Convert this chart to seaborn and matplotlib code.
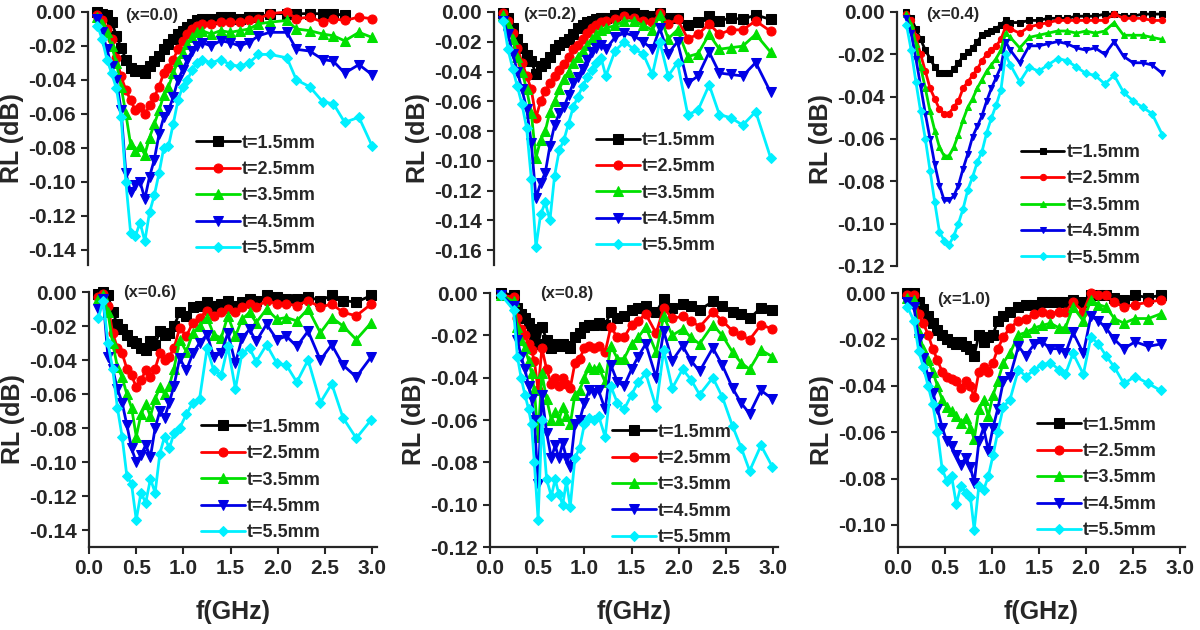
import numpy as np
import pandas as pd
import seaborn as sns
import matplotlib.pyplot as plt
from matplotlib.ticker import FormatStrFormatter, FuncFormatter, MultipleLocator

sns.set_style('ticks')
plt.rcParams['font.family'] = ['Liberation Sans', 'DejaVu Sans']
plt.rcParams['font.weight'] = 'bold'
plt.rcParams['axes.unicode_minus'] = False

labels = ['t=1.5mm', 't=2.5mm', 't=3.5mm', 't=4.5mm', 't=5.5mm']
colors = ['#000000', '#ff0000', '#00e000', '#0000e6', '#00f0ff']
markers = ['s', 'o', '^', 'v', 'D']

# ---- x=0.0 ----
f_00 = [0.10, 0.15, 0.20, 0.25, 0.30, 0.35, 0.40, 0.45, 0.50, 0.55, 0.60, 0.65, 0.70, 0.75, 0.80, 0.85,
        0.90, 0.95, 1.00, 1.05, 1.10, 1.15, 1.20, 1.30, 1.40, 1.50, 1.60, 1.70, 1.80, 1.92, 2.10, 2.20,
        2.34, 2.48, 2.59, 2.71, 2.86, 3.00]
rl_00_t15 = [-0.000, -0.001, -0.002, -0.006, -0.014, -0.021, -0.028, -0.033, -0.035, -0.034, -0.036, -0.032,
             -0.029, -0.026, -0.022, -0.019, -0.016, -0.013, -0.011, -0.009, -0.007, -0.005, -0.004, -0.004,
             -0.003, -0.003, -0.004, -0.003, -0.003, -0.001, -0.001, -0.001, -0.001, -0.001, -0.001, -0.002]
rl_00_t25 = [-0.002, -0.005, -0.010, -0.016, -0.027, -0.038, -0.046, -0.052, -0.058, -0.056, -0.060, -0.055,
             -0.050, -0.044, -0.036, -0.033, -0.028, -0.022, -0.017, -0.013, -0.010, -0.008, -0.007, -0.007,
             -0.006, -0.006, -0.006, -0.005, -0.004, -0.001, 0.000, -0.004, -0.003, -0.006, -0.004, -0.005,
             -0.003, -0.004]
rl_00_t35 = [-0.003, -0.007, -0.012, -0.020, -0.030, -0.044, -0.060, -0.078, -0.082, -0.079, -0.084, -0.074,
             -0.066, -0.058, -0.049, -0.044, -0.036, -0.029, -0.024, -0.019, -0.015, -0.012, -0.011, -0.013,
             -0.011, -0.012, -0.011, -0.010, -0.007, -0.006, -0.005, -0.010, -0.011, -0.013, -0.014, -0.017,
             -0.012, -0.015]
rl_00_t45 = [-0.004, -0.012, -0.022, -0.032, -0.040, -0.058, -0.095, -0.106, -0.102, -0.100, -0.110, -0.097,
             -0.087, -0.072, -0.062, -0.058, -0.050, -0.040, -0.034, -0.028, -0.023, -0.020, -0.018, -0.020,
             -0.017, -0.018, -0.020, -0.018, -0.014, -0.012, -0.012, -0.022, -0.023, -0.028, -0.029, -0.036,
             -0.031, -0.037]
rl_00_t55 = [-0.008, -0.016, -0.028, -0.036, -0.045, -0.062, -0.100, -0.130, -0.132, -0.124, -0.135, -0.118,
             -0.108, -0.095, -0.080, -0.079, -0.066, -0.052, -0.044, -0.040, -0.034, -0.030, -0.028, -0.030,
             -0.028, -0.031, -0.032, -0.030, -0.025, -0.025, -0.027, -0.040, -0.044, -0.053, -0.054, -0.065,
             -0.062, -0.079]

# ---- x=0.2 ----
f_02 = [0.10, 0.15, 0.20, 0.25, 0.30, 0.35, 0.40, 0.45, 0.50, 0.55, 0.60, 0.65, 0.70, 0.75, 0.80, 0.85,
        0.90, 0.95, 1.00, 1.05, 1.10, 1.15, 1.20, 1.30, 1.40, 1.50, 1.60, 1.70, 1.78, 1.87, 1.97, 2.08,
        2.19, 2.31, 2.42, 2.54, 2.67, 2.81, 2.97]
rl_02_t15 = [-0.001, -0.004, -0.011, -0.018, -0.024, -0.029, -0.033, -0.042, -0.036, -0.034, -0.030, -0.025,
             -0.022, -0.020, -0.018, -0.015, -0.011, -0.009, -0.007, -0.006, -0.005, -0.004, -0.004, -0.002,
             -0.001, -0.001, -0.002, -0.003, -0.001, -0.004, -0.004, -0.009, -0.007, -0.003, -0.006, -0.004,
             -0.005, -0.002, -0.005]
rl_02_t25 = [-0.001, -0.006, -0.014, -0.024, -0.034, -0.043, -0.052, -0.071, -0.060, -0.053, -0.048, -0.043,
             -0.039, -0.035, -0.030, -0.025, -0.022, -0.018, -0.014, -0.011, -0.009, -0.007, -0.006, -0.005,
             -0.003, -0.004, -0.006, -0.007, -0.001, -0.008, -0.005, -0.018, -0.015, -0.008, -0.015, -0.012,
             -0.012, -0.006, -0.013]
rl_02_t35 = [-0.002, -0.008, -0.018, -0.030, -0.040, -0.052, -0.068, -0.098, -0.086, -0.080, -0.067, -0.060,
             -0.052, -0.045, -0.040, -0.034, -0.030, -0.026, -0.022, -0.018, -0.015, -0.012, -0.011, -0.009,
             -0.006, -0.006, -0.009, -0.012, -0.002, -0.018, -0.012, -0.030, -0.028, -0.015, -0.025, -0.024,
             -0.023, -0.015, -0.027]
rl_02_t45 = [-0.006, -0.015, -0.028, -0.040, -0.052, -0.065, -0.088, -0.125, -0.115, -0.108, -0.090, -0.076,
             -0.068, -0.064, -0.056, -0.048, -0.044, -0.038, -0.032, -0.027, -0.024, -0.022, -0.025, -0.017,
             -0.014, -0.016, -0.020, -0.025, -0.011, -0.028, -0.020, -0.048, -0.043, -0.027, -0.041, -0.042,
             -0.043, -0.034, -0.054]
rl_02_t55 = [-0.006, -0.025, -0.038, -0.050, -0.062, -0.078, -0.112, -0.158, -0.136, -0.128, -0.140, -0.110,
             -0.093, -0.086, -0.075, -0.064, -0.057, -0.050, -0.044, -0.039, -0.034, -0.031, -0.043, -0.026,
             -0.020, -0.025, -0.028, -0.042, -0.020, -0.043, -0.034, -0.069, -0.066, -0.049, -0.069, -0.071,
             -0.076, -0.067, -0.098]

# ---- x=0.4 ----
f_04 = [0.10, 0.15, 0.20, 0.25, 0.30, 0.35, 0.40, 0.45, 0.50, 0.55, 0.60, 0.65, 0.70, 0.75, 0.80, 0.85,
        0.90, 0.95, 1.00, 1.05, 1.10, 1.15, 1.20, 1.30, 1.40, 1.50, 1.60, 1.70, 1.80, 1.90, 2.00, 2.10,
        2.20, 2.30, 2.40, 2.50, 2.60, 2.70, 2.81]
rl_04_t15 = [-0.000, -0.003, -0.008, -0.013, -0.018, -0.022, -0.026, -0.029, -0.029, -0.029, -0.027, -0.024,
             -0.021, -0.019, -0.017, -0.014, -0.011, -0.010, -0.009, -0.008, -0.006, -0.004, -0.005, -0.005,
             -0.004, -0.004, -0.003, -0.003, -0.003, -0.002, -0.002, -0.002, -0.001, -0.001, -0.002, -0.002,
             -0.001, -0.001, -0.001]
rl_04_t25 = [-0.001, -0.004, -0.012, -0.020, -0.028, -0.036, -0.041, -0.046, -0.048, -0.048, -0.045, -0.042,
             -0.036, -0.033, -0.030, -0.027, -0.023, -0.020, -0.018, -0.016, -0.013, -0.007, -0.008, -0.010,
             -0.007, -0.006, -0.005, -0.004, -0.004, -0.004, -0.004, -0.004, -0.004, -0.001, -0.003, -0.003,
             -0.003, -0.004, -0.004]
rl_04_t35 = [-0.001, -0.006, -0.015, -0.026, -0.036, -0.047, -0.056, -0.064, -0.068, -0.068, -0.064, -0.058,
             -0.051, -0.045, -0.041, -0.036, -0.032, -0.028, -0.025, -0.022, -0.018, -0.010, -0.012, -0.017,
             -0.012, -0.011, -0.010, -0.009, -0.009, -0.010, -0.009, -0.010, -0.009, -0.005, -0.011, -0.011,
             -0.011, -0.012, -0.013]
rl_04_t45 = [-0.003, -0.010, -0.022, -0.035, -0.048, -0.060, -0.072, -0.082, -0.089, -0.089, -0.087, -0.082,
             -0.074, -0.067, -0.059, -0.054, -0.049, -0.042, -0.036, -0.031, -0.026, -0.014, -0.018, -0.024,
             -0.016, -0.016, -0.015, -0.014, -0.015, -0.017, -0.018, -0.017, -0.020, -0.014, -0.021, -0.024,
             -0.024, -0.025, -0.029]
rl_04_t55 = [-0.006, -0.018, -0.033, -0.047, -0.060, -0.075, -0.090, -0.104, -0.108, -0.110, -0.106, -0.100,
             -0.093, -0.084, -0.078, -0.071, -0.066, -0.057, -0.050, -0.044, -0.037, -0.020, -0.025, -0.033,
             -0.026, -0.028, -0.025, -0.022, -0.023, -0.026, -0.029, -0.030, -0.034, -0.030, -0.038, -0.042,
             -0.045, -0.048, -0.058]

# ---- x=0.6 ----
f_06 = [0.10, 0.15, 0.20, 0.25, 0.30, 0.35, 0.40, 0.45, 0.50, 0.55, 0.60, 0.65, 0.70, 0.75, 0.80, 0.85,
        0.90, 0.96, 1.03, 1.10, 1.17, 1.25, 1.32, 1.40, 1.47, 1.55, 1.62, 1.70, 1.77, 1.88, 1.99, 2.09,
        2.20, 2.32, 2.45, 2.57, 2.69, 2.83, 2.99]
rl_06_t15 = [-0.001, -0.000, -0.002, -0.012, -0.019, -0.022, -0.025, -0.029, -0.030, -0.033, -0.034, -0.029,
             -0.031, -0.023, -0.025, -0.024, -0.020, -0.012, -0.014, -0.009, -0.008, -0.006, -0.008, -0.007,
             -0.005, -0.008, -0.006, -0.004, -0.005, -0.002, -0.003, -0.004, -0.004, -0.003, -0.005, -0.002,
             -0.005, -0.006, -0.002]
rl_06_t25 = [-0.003, -0.001, -0.008, -0.024, -0.033, -0.036, -0.045, -0.049, -0.056, -0.052, -0.046, -0.050,
             -0.045, -0.036, -0.040, -0.038, -0.033, -0.021, -0.026, -0.018, -0.015, -0.011, -0.014, -0.012,
             -0.010, -0.012, -0.009, -0.007, -0.009, -0.005, -0.007, -0.007, -0.008, -0.005, -0.009, -0.007,
             -0.012, -0.014, -0.007]
rl_06_t35 = [-0.004, -0.002, -0.012, -0.030, -0.044, -0.050, -0.060, -0.068, -0.085, -0.072, -0.066, -0.073,
             -0.063, -0.056, -0.060, -0.055, -0.045, -0.028, -0.035, -0.024, -0.020, -0.015, -0.025, -0.027,
             -0.014, -0.026, -0.016, -0.012, -0.018, -0.010, -0.016, -0.015, -0.017, -0.010, -0.024, -0.015,
             -0.020, -0.028, -0.018]
rl_06_t45 = [-0.010, -0.004, -0.038, -0.045, -0.057, -0.065, -0.078, -0.092, -0.100, -0.096, -0.090, -0.097,
             -0.080, -0.070, -0.074, -0.065, -0.055, -0.039, -0.046, -0.036, -0.030, -0.025, -0.038, -0.036,
             -0.024, -0.042, -0.027, -0.022, -0.029, -0.019, -0.028, -0.026, -0.032, -0.023, -0.040, -0.031,
             -0.043, -0.050, -0.038]
rl_06_t55 = [-0.015, -0.005, -0.030, -0.045, -0.068, -0.085, -0.108, -0.113, -0.134, -0.118, -0.124, -0.110,
             -0.118, -0.095, -0.085, -0.092, -0.083, -0.080, -0.072, -0.065, -0.063, -0.033, -0.046, -0.049,
             -0.032, -0.057, -0.036, -0.033, -0.041, -0.031, -0.042, -0.043, -0.053, -0.040, -0.065, -0.054,
             -0.074, -0.086, -0.075]

# ---- x=0.8 ----
f_08 = [0.12, 0.25, 0.29, 0.33, 0.37, 0.41, 0.44, 0.47, 0.51, 0.55, 0.60, 0.65, 0.69, 0.73, 0.77, 0.81,
        0.85, 0.90, 0.95, 1.00, 1.05, 1.10, 1.15, 1.22, 1.28, 1.35, 1.42, 1.50, 1.57, 1.65, 1.76, 1.84,
        1.93, 2.04, 2.13, 2.22, 2.36, 2.46, 2.57, 2.66, 2.75, 2.87, 2.99]
rl_08_t15 = [-0.000, -0.001, -0.007, -0.010, -0.012, -0.014, -0.017, -0.020, -0.024, -0.016, -0.022, -0.026,
             -0.024, -0.025, -0.024, -0.025, -0.026, -0.021, -0.019, -0.016, -0.015, -0.015, -0.014, -0.015,
             -0.009, -0.012, -0.011, -0.008, -0.007, -0.006, -0.009, -0.003, -0.007, -0.005, -0.006, -0.008,
             -0.004, -0.006, -0.009, -0.010, -0.012, -0.007, -0.008]
rl_08_t25 = [-0.001, -0.002, -0.012, -0.017, -0.020, -0.024, -0.027, -0.032, -0.046, -0.026, -0.036, -0.043,
             -0.040, -0.044, -0.040, -0.043, -0.045, -0.033, -0.031, -0.026, -0.025, -0.026, -0.025, -0.028,
             -0.016, -0.021, -0.021, -0.015, -0.013, -0.010, -0.019, -0.007, -0.012, -0.011, -0.013, -0.016,
             -0.009, -0.013, -0.018, -0.020, -0.022, -0.015, -0.017]
rl_08_t35 = [-0.001, -0.004, -0.016, -0.022, -0.026, -0.032, -0.038, -0.046, -0.068, -0.038, -0.050, -0.060,
             -0.056, -0.060, -0.054, -0.058, -0.062, -0.048, -0.046, -0.040, -0.035, -0.036, -0.035, -0.042,
             -0.025, -0.031, -0.031, -0.024, -0.021, -0.016, -0.028, -0.011, -0.020, -0.017, -0.021, -0.024,
             -0.015, -0.020, -0.028, -0.033, -0.036, -0.027, -0.030]
rl_08_t45 = [-0.001, -0.006, -0.022, -0.030, -0.036, -0.044, -0.050, -0.060, -0.090, -0.048, -0.066, -0.078,
             -0.072, -0.078, -0.071, -0.078, -0.082, -0.062, -0.060, -0.052, -0.046, -0.047, -0.046, -0.055,
             -0.034, -0.042, -0.044, -0.036, -0.030, -0.024, -0.040, -0.018, -0.032, -0.025, -0.032, -0.037,
             -0.026, -0.034, -0.045, -0.052, -0.057, -0.046, -0.050]
rl_08_t55 = [-0.001, -0.008, -0.030, -0.040, -0.048, -0.055, -0.062, -0.080, -0.107, -0.060, -0.088, -0.096,
             -0.088, -0.095, -0.100, -0.089, -0.101, -0.078, -0.073, -0.062, -0.059, -0.060, -0.058, -0.068,
             -0.044, -0.052, -0.055, -0.048, -0.042, -0.038, -0.054, -0.027, -0.045, -0.036, -0.041, -0.048,
             -0.040, -0.049, -0.063, -0.073, -0.084, -0.072, -0.082]

# ---- x=1.0 ----
f_10 = [0.10, 0.17, 0.22, 0.27, 0.32, 0.37, 0.42, 0.47, 0.52, 0.57, 0.62, 0.67, 0.72, 0.77, 0.81, 0.86,
        0.91, 0.96, 1.01, 1.06, 1.12, 1.19, 1.28, 1.36, 1.45, 1.53, 1.62, 1.71, 1.78, 1.86, 1.97, 2.05,
        2.13, 2.21, 2.30, 2.40, 2.52, 2.66, 2.79]
rl_10_t15 = [-0.000, -0.000, -0.004, -0.007, -0.010, -0.013, -0.016, -0.018, -0.020, -0.021, -0.022, -0.021,
             -0.023, -0.024, -0.027, -0.018, -0.021, -0.019, -0.018, -0.012, -0.010, -0.008, -0.006, -0.005,
             -0.005, -0.004, -0.004, -0.004, -0.004, -0.003, -0.004, -0.001, -0.001, -0.001, -0.002, -0.003,
             -0.001, -0.002, -0.001]
rl_10_t25 = [-0.001, -0.001, -0.009, -0.013, -0.018, -0.024, -0.029, -0.034, -0.036, -0.037, -0.038, -0.041,
             -0.038, -0.040, -0.045, -0.034, -0.032, -0.034, -0.030, -0.024, -0.019, -0.015, -0.012, -0.011,
             -0.009, -0.008, -0.009, -0.008, -0.008, -0.004, -0.008, 0.000, -0.001, -0.001, -0.004, -0.006,
             -0.005, -0.004, -0.003]
rl_10_t35 = [-0.002, -0.003, -0.017, -0.024, -0.029, -0.034, -0.040, -0.046, -0.049, -0.051, -0.053, -0.056,
             -0.054, -0.058, -0.063, -0.050, -0.046, -0.053, -0.044, -0.038, -0.030, -0.026, -0.018, -0.017,
             -0.015, -0.014, -0.013, -0.015, -0.015, -0.006, -0.012, -0.003, -0.005, -0.006, -0.011, -0.013,
             -0.011, -0.011, -0.009]
rl_10_t45 = [-0.004, -0.006, -0.020, -0.028, -0.036, -0.043, -0.050, -0.058, -0.064, -0.066, -0.070, -0.074,
             -0.071, -0.075, -0.082, -0.064, -0.058, -0.068, -0.058, -0.050, -0.038, -0.036, -0.023, -0.027,
             -0.022, -0.021, -0.024, -0.024, -0.026, -0.017, -0.026, -0.010, -0.012, -0.015, -0.020, -0.024,
             -0.021, -0.023, -0.022]
rl_10_t55 = [-0.006, -0.012, -0.025, -0.032, -0.040, -0.048, -0.060, -0.076, -0.081, -0.079, -0.091, -0.083,
             -0.086, -0.088, -0.102, -0.083, -0.085, -0.079, -0.070, -0.060, -0.049, -0.046, -0.033, -0.036,
             -0.033, -0.031, -0.030, -0.033, -0.035, -0.026, -0.035, -0.019, -0.022, -0.027, -0.032, -0.039,
             -0.036, -0.039, -0.042]

panels = [
    # rect (l, b, w, h), freq, series, tag, tag position, ylim bottom, legend anchor, show x axis, marker size
    ([0.0733, 0.5794, 0.2408, 0.4016], f_00, [rl_00_t15, rl_00_t25, rl_00_t35, rl_00_t45, rl_00_t55],
     '(x=0.0)', (0.39, -0.002), -0.149, (0.375, 0.515), False, 6.5),
    ([0.4117, 0.5794, 0.2367, 0.4016], f_02, [rl_02_t15, rl_02_t25, rl_02_t35, rl_02_t45, rl_02_t55],
     '(x=0.2)', (0.31, -0.002), -0.170, (0.36, 0.526), False, 6.5),
    ([0.7475, 0.5778, 0.2400, 0.4032], f_04, [rl_04_t15, rl_04_t25, rl_04_t35, rl_04_t45, rl_04_t55],
     '(x=0.4)', (0.31, -0.0012), -0.120, (0.43, 0.48), False, 4.5),
    ([0.0742, 0.1317, 0.2400, 0.4048], f_06, [rl_06_t15, rl_06_t25, rl_06_t35, rl_06_t45, rl_06_t55],
     '(x=0.6)', (0.36, -0.0003), -0.150, (0.39, 0.503), True, 6.5),
    ([0.4083, 0.1317, 0.2400, 0.4032], f_08, [rl_08_t15, rl_08_t25, rl_08_t35, rl_08_t45, rl_08_t55],
     '(x=0.8)', (0.53, -0.0003), -0.120, (0.425, 0.486), True, 6.5),
    ([0.7483, 0.1317, 0.2392, 0.4032], f_10, [rl_10_t15, rl_10_t25, rl_10_t35, rl_10_t45, rl_10_t55],
     '(x=1.0)', (0.42, -0.0026), -0.1095, (0.485, 0.513), True, 6.5),
]


def fmt_y(v, pos):
    return '%.2f' % (round(v, 4) + 0.0)


fig = plt.figure(figsize=(12, 6.3), dpi=100)

for rect, freq, series, tag, tag_xy, ybot, leg_xy, show_x, ms in panels:
    ax = fig.add_axes(rect)
    for vals, lab, c, m in zip(series, labels, colors, markers):
        msz = ms * 0.85 if m == 'D' else ms
        sns.lineplot(x=freq[:len(vals)], y=vals, ax=ax, color=c, marker=m, markersize=msz,
                     markeredgecolor=c, linewidth=2.0, label=lab, clip_on=False)
    ax.set_xlim(0, 3.05)
    ax.set_ylim(ybot, 0.0)
    ax.yaxis.set_major_locator(MultipleLocator(0.02))
    ax.yaxis.set_major_formatter(FuncFormatter(fmt_y))
    ax.xaxis.set_major_locator(MultipleLocator(0.5))
    ax.xaxis.set_major_formatter(FormatStrFormatter('%.1f'))
    ax.tick_params(axis='both', labelsize=15, width=1.5, length=5, direction='out')
    for t in ax.get_yticklabels() + ax.get_xticklabels():
        t.set_fontweight('bold')
    ax.spines['top'].set_visible(False)
    ax.spines['right'].set_visible(False)
    ax.spines['left'].set_linewidth(1.6)
    ax.spines['bottom'].set_linewidth(1.6)
    if show_x:
        ax.set_xlabel('f(GHz)', fontsize=18, fontweight='bold', labelpad=16)
    else:
        ax.spines['bottom'].set_visible(False)
        ax.set_xticks([])
        ax.set_xlabel('')
    ax.set_ylabel('RL (dB)', fontsize=18, fontweight='bold', labelpad=3)
    ax.text(tag_xy[0], tag_xy[1], tag, fontsize=12, fontweight='bold', ha='left', va='center')
    ax.legend(loc='upper left', bbox_to_anchor=leg_xy, frameon=False,
              handlelength=2.4, handletextpad=0.12, labelspacing=0.52, borderpad=0,
              borderaxespad=0, prop={'weight': 'bold', 'size': 13})

fig.savefig('out.png', dpi=100)
